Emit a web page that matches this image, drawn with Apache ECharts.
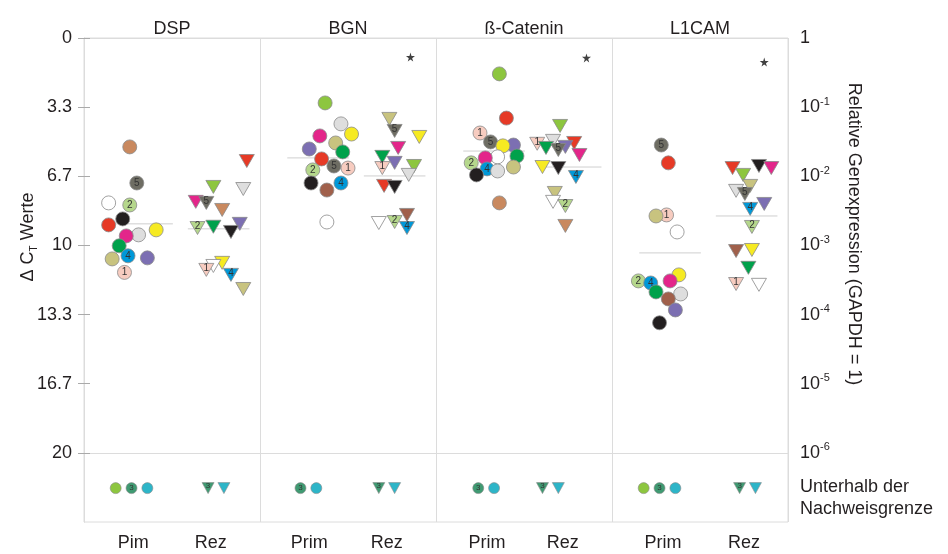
<!DOCTYPE html>
<html><head><meta charset="utf-8">
<script src="https://cdn.jsdelivr.net/npm/echarts@6/dist/echarts.min.js"></script>
<style>html,body{margin:0;padding:0;background:#fff}#c{width:948px;height:554px}</style>
</head><body><div id="c"></div>
<script>
// ---------- data ----------
const genes = ['DSP', 'BGN', 'ß-Catenin', 'L1CAM'];
const groupLabels = ['Pim', 'Rez', 'Prim', 'Rez', 'Prim', 'Rez', 'Prim', 'Rez'];
const leftTickLabels = ['0', '3.3', '6.7', '10', '13.3', '16.7', '20'];
const rightTickExps = [0, -1, -2, -3, -4, -5, -6];
const belowLabel = 'Unterhalb der\nNachweisgrenze';

// [patient, jitter, ΔCt]
const dspPrim = [['tan',-7,5.25],['dkgray',-3,6.99],['white',-19,7.95],['ltgreen',-7,8.05],['black',-11,8.72],['red',-19,9.01],['yellow',8,9.25],['ltgray',-2,9.49],['magenta',-9,9.54],['dkgreen',-13,10.02],['blue',-8,10.5],['khaki',-17,10.65],['purple',3,10.6],['pink',-10,11.3]];
const dspRez = [['red',16,5.93],['lime',-3,7.18],['ltgray',14,7.28],['magenta',-13,7.9],['dkgray',-7,7.95],['tan',2,8.29],['purple',12,8.96],['dkgreen',-3,9.1],['ltgreen',-12,9.16],['black',7,9.35],['yellow',2,10.84],['white',-3,10.99],['pink',-7,11.18],['blue',7,11.42],['khaki',14,12.1]];
const bgnPrim = [['lime',4,3.13],['ltgray',13,4.14],['yellow',19,4.63],['magenta',1,4.72],['khaki',10,5.06],['purple',-5,5.35],['dkgreen',14,5.49],['red',2,5.83],['dkgray',9,6.17],['pink',17,6.27],['ltgreen',-3,6.36],['black',-4,6.99],['blue',13,6.99],['brown',5,7.33],['white',5,8.87]];
const bgnRez = [['khaki',-3,3.9],['dkgray',0,4.48],['yellow',14,4.77],['magenta',2,5.3],['dkgreen',-7,5.73],['purple',0,6.02],['lime',11,6.17],['pink',-7,6.27],['ltgray',8,6.6],['red',-6,7.13],['black',0,7.18],['brown',7,8.53],['ltgreen',0,8.87],['white',-9,8.92],['blue',7,9.16]];
const betPrim = [['lime',3,1.73],['red',7,3.86],['pink',-8,4.58],['dkgray',-2,5.01],['purple',11,5.16],['yellow',5,5.2],['dkgreen',13,5.69],['white',2,5.73],['magenta',-5,5.78],['ltgreen',-13,6.02],['khaki',11,6.22],['blue',-4,6.31],['ltgray',2,6.41],['black',-10,6.6],['tan',3,7.95]];
const betRez = [['lime',-6,4.24],['ltgray',-10,4.96],['red',2,5.06],['pink',-19,5.1],['purple',-3,5.25],['dkgreen',-14,5.3],['dkgray',-7,5.4],['magenta',5,5.64],['yellow',-16,6.22],['black',-7,6.27],['blue',3,6.7],['khaki',-9,7.47],['white',-10,7.9],['ltgreen',-3,8.1],['tan',-3,9.06]];
const l1Prim = [['dkgray',-5,5.16],['red',-1,6.02],['pink',-2,8.53],['khaki',-8,8.58],['white',4,9.35],['yellow',5,11.42],['ltgreen',-18,11.71],['magenta',0,11.71],['blue',-11,11.81],['dkgreen',-8,12.24],['ltgray',6,12.34],['brown',-1,12.58],['purple',3,13.11],['black',-6,13.73]];
const l1Rez = [['black',7,6.17],['red',-8,6.27],['magenta',14,6.27],['lime',-2,6.6],['khaki',2,7.13],['ltgray',-6,7.37],['dkgray',-1,7.52],['purple',10,8.0],['blue',2,8.24],['ltgreen',3,9.11],['yellow',3,10.22],['brown',-6,10.27],['dkgreen',1,11.08],['pink',-6,11.86],['white',7,11.9]];

// below detection limit: [patient, jitter]
const dspPrimBelow = [['lime',-15],['teal3',-6],['teal',3]];
const dspRezBelow = [['teal3',-6],['teal',3]];
const bgnPrimBelow = [['teal3',-10],['teal',-1]];
const bgnRezBelow = [['teal3',-9],['teal',0]];
const betPrimBelow = [['teal3',-9],['teal',0]];
const betRezBelow = [['teal3',-16],['teal',-7]];
const l1PrimBelow = [['lime',-15],['teal3',-6],['teal',3]];
const l1RezBelow = [['teal3',-4],['teal',5]];

const meanPrim = [8.96, 5.78, 5.45, 10.36];
const meanRez = [9.2, 6.65, 6.22, 8.58];
const starRez = [null, 0.92, 0.96, 1.16];   // significance star (ΔCt position)
const starJitter = [0, 9, 9, 10];
const BELOW_CT = 21.7;

// ---------- styles ----------
const COLORS = {lime:'#8dc63f', tan:'#c9895f', dkgray:'#6e6d63', white:'#ffffff', ltgreen:'#b5d78c', black:'#231f20', red:'#e63a26', magenta:'#e3268a', ltgray:'#dedede', yellow:'#f6ea22', dkgreen:'#00a14b', khaki:'#c8c37f', blue:'#0098d8', purple:'#7c6fb2', pink:'#f7ccc0', brown:'#a0604b', teal3:'#3f9a72', teal:'#2db5c8'};
const NUMBERS = {dkgray:'5', ltgreen:'2', blue:'4', pink:'1', teal3:'3'};
const FONT = '"Liberation Sans", Arial, Helvetica, sans-serif';
const TXT = '#231f20';
const PANEL = 100, CENTER = [33, 76.5], HALF = 17.5;
const labelPos = [28, 72, 128, 172, 229, 272, 329, 375];
const STEP = 10 / 3;

const detected = [[dspPrim, dspRez], [bgnPrim, bgnRez], [betPrim, betRez], [l1Prim, l1Rez]];
const below = [[dspPrimBelow, dspRezBelow], [bgnPrimBelow, bgnRezBelow], [betPrimBelow, betRezBelow], [l1PrimBelow, l1RezBelow]];

function item(p, x, y, tri, small) {
  const num = NUMBERS[p];
  return {
    value: [x, y],
    itemStyle: {color: COLORS[p]},
    label: num ? {show: true, formatter: num, fontSize: small ? 8 : 10, color: '#333', fontFamily: FONT,
      offset: tri ? [0, -2] : [0, 0]} : {show: false}
  };
}
const circ = [], tris = [], circB = [], trisB = [], stars = [];
detected.forEach((pair, g) => pair.forEach((arr, grp) => arr.forEach(([p, j, ct]) => {
  (grp === 0 ? circ : tris).push(item(p, g * PANEL + CENTER[grp] + j, ct, grp === 1, false));
})));
below.forEach((pair, g) => pair.forEach((arr, grp) => arr.forEach(([p, j]) => {
  (grp === 0 ? circB : trisB).push(item(p, g * PANEL + CENTER[grp] + j, BELOW_CT, grp === 1, true));
})));
starRez.forEach((v, g) => { if (v != null) stars.push([g * PANEL + CENTER[1] + starJitter[g], v]); });

const meanSeries = [];
[meanPrim, meanRez].forEach((arr, grp) => arr.forEach((m, g) => {
  const c = g * PANEL + CENTER[grp];
  meanSeries.push({type: 'line', data: [[c - HALF, m], [c + HALF, m]], symbol: 'none', silent: true,
    lineStyle: {color: '#cfcfcf', width: 1}, z: 1});
}));

const T = 'rgba(0,0,0,0)';
const split = ['#dcdcdc', T, T, T, T, T, '#dcdcdc', '#dcdcdc'];

const chart = echarts.init(document.getElementById('c'), null, {renderer: 'canvas'});
chart.setOption({
  animation: false,
  backgroundColor: '#fff',
  textStyle: {fontFamily: FONT},
  grid: {left: 84, right: 160, top: 38, bottom: 32, show: true, borderColor: '#dcdcdc', borderWidth: 1},
  xAxis: [{
    type: 'value', min: 0, max: 400, interval: 100, position: 'bottom',
    axisLine: {show: false}, axisTick: {show: false},
    splitLine: {show: true, lineStyle: {color: '#dcdcdc', width: 1}},
    axisLabel: {customValues: labelPos, fontSize: 18, color: TXT, margin: 12, fontFamily: FONT,
      formatter: v => { const i = labelPos.findIndex(p => Math.abs(p - v) < 0.01); return i >= 0 ? groupLabels[i] : ''; }}
  }, {
    type: 'value', min: 0, max: 400, position: 'top',
    axisLine: {show: false}, axisTick: {show: false}, splitLine: {show: false},
    axisLabel: {customValues: [50, 150, 250, 350], fontSize: 18, color: TXT, margin: 0, fontFamily: FONT,
      formatter: v => genes[Math.round((v - 50) / 100)] || ''}
  }],
  yAxis: [{
    type: 'value', inverse: true, min: 0, max: 7 * STEP, interval: STEP, position: 'left',
    axisLine: {show: true, lineStyle: {color: '#dcdcdc'}},
    axisTick: {show: true, inside: false, length: 6, lineStyle: {color: '#aaa'},
      customValues: [0, STEP, 2 * STEP, 3 * STEP, 4 * STEP, 5 * STEP, 6 * STEP]},
    splitLine: {show: true, lineStyle: {color: split, width: 1}},
    axisLabel: {fontSize: 18, color: TXT, margin: 12, fontFamily: FONT,
      formatter: v => { const k = Math.round(v / STEP); return k <= 6 ? leftTickLabels[k] : ''; }}
  }, {
    type: 'value', inverse: true, min: 0, max: 7 * STEP, position: 'right',
    axisLine: {show: true, lineStyle: {color: '#dcdcdc'}},
    axisTick: {show: true, length: 6, lineStyle: {color: '#aaa'},
      customValues: [0, STEP, 2 * STEP, 3 * STEP, 4 * STEP, 5 * STEP, 6 * STEP]},
    splitLine: {show: false},
    axisLabel: {
      customValues: [0, STEP, 2 * STEP, 3 * STEP, 4 * STEP, 5 * STEP, 6 * STEP, 22.2],
      fontSize: 18, lineHeight: 22, color: TXT, margin: 12, fontFamily: FONT,
      formatter: v => {
        if (v > 21) return belowLabel;
        const e = rightTickExps[Math.round(v / STEP)];
        return e === 0 ? '{b|1}' : '{b|10}{s|' + e + '}';
      },
      rich: {
        b: {fontSize: 18, lineHeight: 22, color: TXT, fontFamily: FONT},
        s: {fontSize: 11, lineHeight: 12, verticalAlign: 'top', color: TXT, fontFamily: FONT}
      }
    }
  }],
  graphic: [{
    type: 'text', x: 28, y: 237, rotation: Math.PI / 2,
    style: {text: '{a|Δ C}{t|T}{a| Werte}', align: 'center', verticalAlign: 'middle', fill: TXT,
      rich: {a: {fontSize: 18, lineHeight: 22, fontFamily: FONT, fill: TXT},
             t: {fontSize: 10, lineHeight: 12, verticalAlign: 'bottom', fontFamily: FONT, fill: TXT}}}
  }, {
    type: 'text', x: 854, y: 234, rotation: -Math.PI / 2,
    style: {text: 'Relative Genexpression (GAPDH = 1)', align: 'center', verticalAlign: 'middle',
      fill: TXT, font: '18px ' + FONT}
  }],
  series: meanSeries.concat([
    {type: 'scatter', data: circ, symbol: 'circle', symbolSize: 14, z: 3,
      itemStyle: {borderColor: '#8a8a8a', borderWidth: 0.8, opacity: 1},
      label: {position: 'inside'}},
    {type: 'scatter', data: tris, symbol: 'triangle', symbolRotate: 180, symbolSize: [15, 13], z: 3,
      itemStyle: {borderColor: '#8a8a8a', borderWidth: 0.8, opacity: 1},
      label: {position: 'inside'}},
    {type: 'scatter', data: circB, symbol: 'circle', symbolSize: 11, z: 3,
      itemStyle: {borderColor: '#8a8a8a', borderWidth: 0.6, opacity: 1},
      label: {position: 'inside'}},
    {type: 'scatter', data: trisB, symbol: 'triangle', symbolRotate: 180, symbolSize: [12, 11], z: 3,
      itemStyle: {borderColor: '#8a8a8a', borderWidth: 0.6, opacity: 1},
      label: {position: 'inside'}},
    {type: 'scatter', data: stars, symbolSize: 9, z: 3,
      symbol: 'path://M50,0 L61,35 L98,35 L68,57 L79,91 L50,70 L21,91 L32,57 L2,35 L39,35 Z',
      itemStyle: {color: '#111'}}
  ])
});
</script></body></html>
